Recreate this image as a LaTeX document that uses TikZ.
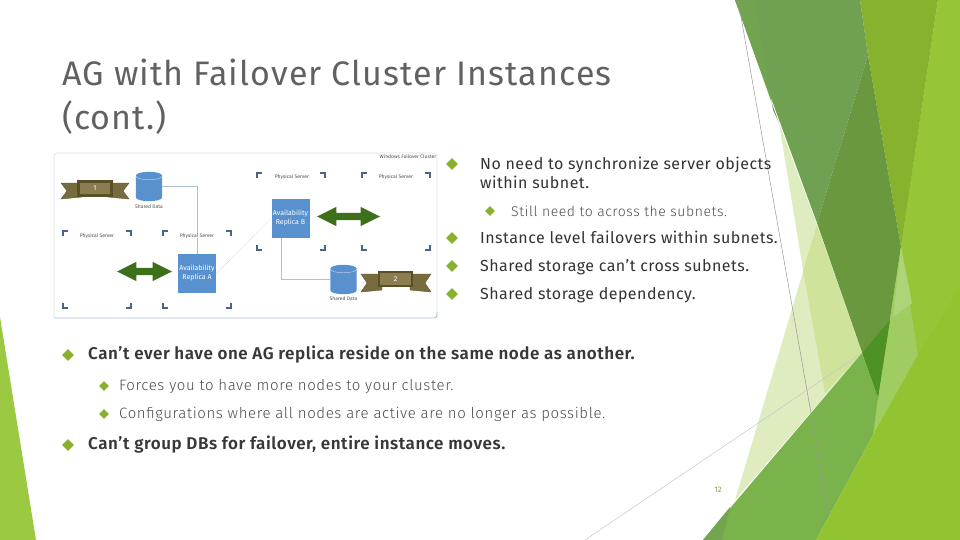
\documentclass[tikz,border=0pt]{standalone}
\usepackage{fontspec}
\setmainfont{Fira Sans}
\newfontfamily\titlefont[LetterSpace=3.25]{Fira Sans}
\newfontfamily\mainfont[LetterSpace=3.2]{Fira Sans SemiBold}
\newfontfamily\sidefont[LetterSpace=2.9]{Fira Sans}
\newfontfamily\subfont[LetterSpace=4.1]{Fira Sans Light}
\usetikzlibrary{shapes.geometric,shapes.arrows}
\definecolor{bright}{RGB}{150,198,55}
\definecolor{olive}{RGB}{135,178,45}
\definecolor{moss}{RGB}{112,160,82}
\definecolor{fern}{RGB}{105,152,62}
\definecolor{deep}{RGB}{78,146,38}
\definecolor{leaf}{RGB}{122,178,76}
\definecolor{panel}{RGB}{160,205,98}
\definecolor{lime}{RGB}{146,196,50}
\definecolor{pale}{RGB}{223,236,192}
\definecolor{pale2}{RGB}{208,227,155}
\definecolor{bluebox}{RGB}{88,145,205}
\definecolor{ribbon}{RGB}{90,80,40}
\definecolor{ribbonmid}{RGB}{120,108,62}
\definecolor{ribbonin}{RGB}{140,125,80}
\definecolor{frameblue}{RGB}{172,192,212}
\definecolor{cornerblue}{RGB}{75,100,130}
\definecolor{linkgreen}{RGB}{62,112,28}
\newcommand{\datacyl}[1]{%
  \fill[bluebox] ([yshift=-4pt]#1.north west) .. controls ([yshift=1.3pt]#1.north west) and ([yshift=1.3pt]#1.north east) .. ([yshift=-4pt]#1.north east) -- ([yshift=4pt]#1.south east) .. controls ([yshift=-1.3pt]#1.south east) and ([yshift=-1.3pt]#1.south west) .. ([yshift=4pt]#1.south west) -- cycle;
  \draw[bluebox!45!white, line width=0.5pt] ([yshift=-4pt]#1.north west) .. controls ([yshift=-9.3pt]#1.north west) and ([yshift=-9.3pt]#1.north east) .. ([yshift=-4pt]#1.north east);
}
\tikzset{
  mainbul/.style={diamond, fill=olive, inner sep=0pt, minimum size=12pt},
  subbul/.style={diamond, fill=olive, inner sep=0pt, minimum size=10pt},
  titletxt/.style={anchor=base west, inner sep=0pt, text=black!62, font=\titlefont\fontsize{34}{34}\selectfont},
  maintxt/.style={anchor=base west, inner sep=0pt, text=black!78, font=\mainfont\fontsize{17}{17}\selectfont},
  sidetxt/.style={anchor=base west, inner sep=0pt, text=black!80, font=\sidefont\fontsize{16}{16}\selectfont},
  subtxt/.style={anchor=base west, inner sep=0pt, text=black!70, font=\subfont\fontsize{15}{15}\selectfont},
  tinytxt/.style={inner sep=0pt, text=black!70, font=\fontsize{5}{5}\selectfont},
  replica/.style={fill=bluebox, text=white, inner sep=0pt, align=center, minimum width=38pt, minimum height=39pt, font=\fontsize{7}{9}\selectfont},
  shareddata/.style={inner sep=0pt, minimum width=26pt, minimum height=29pt},
  linkarrow/.style={double arrow, fill=linkgreen, inner sep=3.5pt, double arrow head extend=6pt, double arrow tip angle=53, minimum height=55pt, minimum width=19pt},
  ribbonbox/.style={fill=ribbonin, draw=ribbon, line width=2.5pt, text=white, inner sep=0pt, minimum width=33pt, minimum height=14pt, font=\fontsize{7}{7}\selectfont},
  corner/.style={cornerblue, line width=1.4pt},
  linkline/.style={frameblue, line width=0.9pt}
}
\begin{document}
\begin{tikzpicture}[x=1pt,y=-1pt]
\useasboundingbox (0,0) rectangle (960,540);
% facets
\fill[bright] (938,0) -- (960,0) -- (960,290) -- (873,435) -- (878,398) -- cycle;
\fill[pale] (817,225) -- (735,500) -- (862,353) -- cycle;
\fill[pale] (779,123) -- (817,225) -- (803,270) -- cycle;
\fill[pale2] (817,225) -- (803,270) -- (825,393) -- (862,353) -- cycle;
\fill[olive] (860,0) -- (938,0) -- (901,247) -- (868,55) -- cycle;
\fill[moss] (735,0) -- (860,0) -- (868,55) -- (817,223) -- cycle;
\fill[moss!85!leaf] (735,0) -- (755,0) -- (773,110) -- (779,123) -- cycle;
\fill[fern] (868,55) -- (817,223) -- (878,398) -- (901,247) -- cycle;
\fill[panel] (901,247) -- (918,355) -- (873,435) -- (878,398) -- cycle;
\fill[panel!85!white] (901,247) -- (912,303) -- (893,317) -- cycle;
\fill[deep] (862,353) -- (890,320) -- (878,398) -- cycle;
\fill[leaf] (703,540) -- (862,353) -- (878,398) -- (873,435) -- (816,540) -- cycle;
\fill[lime] (816,540) -- (873,435) -- (918,355) -- (960,287) -- (960,540) -- cycle;
\fill[moss!70!leaf] (703,540) -- (730,507) -- (722,540) -- cycle;
\fill[bright!95!white] (0,317) -- (36,540) -- (0,540) -- cycle;
\coordinate (lineatop) at (738,0);
\coordinate (lineabot) at (829,515);
\coordinate (linebtop) at (862,353);
\coordinate (linebbot) at (585,540);
\draw[black!40, line width=0.5pt] (lineatop) -- (lineabot);
\draw[black!22, line width=0.5pt] (linebtop) -- (linebbot);
% title
\node[titletxt] (title1) at (62,86){AG with Failover Cluster Instances};
\node[titletxt] (title2) at (62,130){(cont.)};
% inset frame
\draw[frameblue!45, line width=0.7pt, rounded corners=3pt] (54,318) -- (54,153) -- (437,153) -- (437,318);
\draw[frameblue, line width=0.8pt, rounded corners=3pt] (54,318) -- (437,318) -- (437,312);
\node[tinytxt] (wfc) at (408,157){Windows Failover Cluster};
% server corners
\draw[corner] (63,236) -- (63,231) -- (68,231);
\draw[corner] (126,231) -- (131,231) -- (131,236);
\draw[corner] (63,303) -- (63,308) -- (68,308);
\draw[corner] (126,308) -- (131,308) -- (131,303);
\draw[corner] (163,236) -- (163,231) -- (168,231);
\draw[corner] (226,231) -- (231,231) -- (231,236);
\draw[corner] (163,303) -- (163,308) -- (168,308);
\draw[corner] (226,308) -- (231,308) -- (231,303);
\draw[corner] (257,178) -- (257,173) -- (262,173);
\draw[corner] (320,173) -- (325,173) -- (325,178);
\draw[corner] (257,245) -- (257,250) -- (262,250);
\draw[corner] (320,250) -- (325,250) -- (325,245);
\draw[corner] (362,178) -- (362,173) -- (367,173);
\draw[corner] (425,173) -- (430,173) -- (430,178);
\draw[corner] (362,245) -- (362,250) -- (367,250);
\draw[corner] (425,250) -- (430,250) -- (430,245);
% replicas and storage
\node[shareddata] (dataa) at (149,186.5){};
\node[shareddata] (datab) at (343.5,279.5){};
\datacyl{dataa}
\datacyl{datab}
\node[tinytxt] (dataalbl) at (149,206.5){Shared Data};
\node[tinytxt] (databLbl) at (343.5,299){Shared Data};
\node[replica] (repa) at (197,273.5){Availability\\Replica A};
\node[replica] (repb) at (290.5,218.5){Availability\\Replica B};
\coordinate (repbfoot) at (281,238);
\draw[linkline] (dataa.east) -| (repa.north);
\draw[linkline] (repbfoot) |- (datab.west);
\draw[black!35, line width=0.4pt, densely dotted] (repa.east) -- (repb.west);
\node[tinytxt] (srva) at (97,236){Physical Server};
\node[tinytxt, fill=white] (srvb) at (197,236){Physical Server};
\node[tinytxt] (srvc) at (292,177){Physical Server};
\node[tinytxt] (srvd) at (396,177){Physical Server};
\node[linkarrow] (linka) at (144.5,271.5){};
\node[linkarrow, minimum height=63pt] (linkb) at (348.5,216.5){};
% ribbons
\fill[ribbonmid, draw=ribbon] (61,183) -- (82,183) -- (82,197) -- (61,199) -- (67,191) -- cycle;
\fill[ribbonmid, draw=ribbon] (129,183) -- (108,183) -- (108,197) -- (129,199) -- (123,191) -- cycle;
\node[ribbonbox] (ribbona) at (95,188.5){1};
\fill[ribbonmid, draw=ribbon] (361,274) -- (382,274) -- (382,290) -- (361,292) -- (367,283) -- cycle;
\fill[ribbonmid, draw=ribbon] (431,274) -- (410,274) -- (410,290) -- (431,292) -- (425,283) -- cycle;
\node[ribbonbox] (ribbonb) at (395.5,279){2};
% right list
\node[mainbul] (bul1) at (452,164){};
\node[sidetxt] (txt1) at (480,170){No need to synchronize server objects};
\node[sidetxt] (txt1b) at (480,189){within subnet.};
\node[subbul] (bul2) at (490,211){};
\node[subtxt, font=\subfont\fontsize{14}{14}\selectfont] (txt2) at (511,216){Still need to across the subnets.};
\node[mainbul] (bul3) at (452,238){};
\node[sidetxt] (txt3) at (480,243){Instance level failovers within subnets.};
\node[mainbul] (bul4) at (452,266){};
\node[sidetxt] (txt4) at (480,271){Shared storage can’t cross subnets.};
\node[mainbul] (bul5) at (452,294){};
\node[sidetxt] (txt5) at (480,299){Shared storage dependency.};
% lower list
\node[mainbul] (bul6) at (68,355){};
\node[maintxt] (txt6) at (88,359){Can’t ever have one AG replica reside on the same node as another.};
\node[subbul] (bul7) at (104,386){};
\node[subtxt] (txt7) at (119,390){Forces you to have more nodes to your cluster.};
\node[subbul] (bul8) at (104,414){};
\node[subtxt] (txt8) at (119,418){Configurations where all nodes are active are no longer as possible.};
\node[mainbul] (bul9) at (68,445){};
\node[maintxt] (txt9) at (88,449){Can’t group DBs for failover, entire instance moves.};
\node[inner sep=0pt, text=olive!70!gray, font=\fontsize{8}{8}\selectfont] (pagenum) at (718,490){12};
\end{tikzpicture}
\end{document}
